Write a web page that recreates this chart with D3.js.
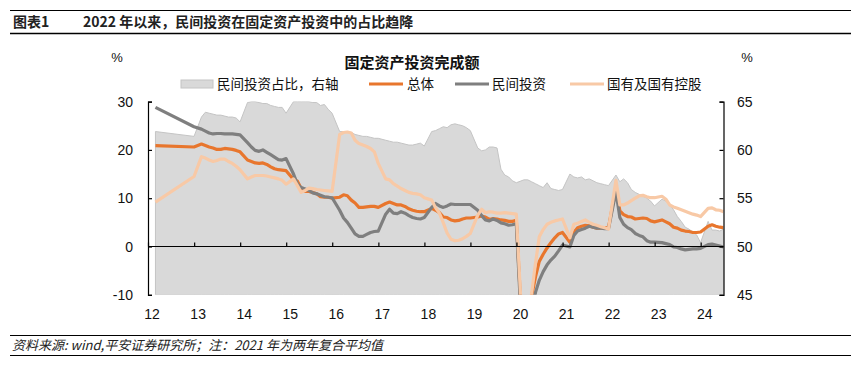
<!DOCTYPE html>
<html>
<head>
<meta charset="utf-8">
<script src="https://cdn.jsdelivr.net/npm/d3@7"></script>
<style>
    body { margin: 0; background: #fff; }
    text { font-family: "Liberation Sans", "Noto Sans CJK SC", sans-serif; }
    .cjk { font-family: "Noto Sans CJK SC", "Liberation Sans", sans-serif; }
</style>
</head>
<body>
<script>
/*global d3 */

// month-end points, Feb..Dec each year (Jan is merged into Feb), last point Jun 2024
var months = [];
for (var yr = 2012; yr <= 2024; yr++) {
    for (var m = 2; m <= (yr === 2024 ? 6 : 12); m++) {
        months.push(new Date(yr, m, 0));
    }
}

var yearTicks = ["12", "13", "14", "15", "16", "17", "18", "19", "20", "21", "22", "23", "24"];
var leftTicks = [-10, 0, 10, 20, 30];
var rightTicks = [45, 50, 55, 60, 65];

// 民间投资占比，右轴 (%), nulls are months the source skips
var privateShare = [
    61.9, null, null, null, null, null, null, null, null, null, 61.4,
    63.4, 63.9, 63.8, 63.7, 63.6, 63.6, 63.5, 63.4, 63.4, 63.3, 62.9,
    64.9, 65.0, 65.0, 64.9, 64.8, 64.8, 64.6, 64.5, 64.4, 64.4, 63.8,
    65.0, 65.0, 65.0, 65.0, 65.0, 64.9, 64.9, 64.6, 64.7, 64.2, 63.8,
    61.9, 61.9, 61.9, 61.8, 61.6, 61.5, 61.4, 61.4, 61.3, 61.2, 61.2,
    61.0, 60.9, 60.8, 60.8, 60.7, 60.6, 60.5, 60.5, 60.6, 60.7, 60.4,
    61.9, 62.0, 62.2, 62.4, 62.3, 62.6, 62.7, 62.6, 62.5, 62.3, 62.0,
    60.2, 59.9, 60.0, 60.3, 60.3, 60.2, 58.0, 57.4, 57.2, 56.8, 56.6,
    56.9, 56.9, 56.7, 56.5, 56.3, 56.1, 56.6, 56.0, 55.9, 55.8, 55.9,
    57.5, 57.2, 57.1, 57.2, 56.9, 57.0, 56.8, 56.6, 56.5, 56.4, 56.3,
    57.4, 56.7, 57.0, 56.6, 55.9, 55.6, 55.4, 55.2, 55.0, 54.7, 54.2,
    54.9, 54.7, 54.3, 53.8, 53.1, 52.6, 52.0, 51.8, 51.5, 51.2, 50.4,
    52.6, 51.7, 51.7, 51.6, 51.8
];

// 总体 (cumulative yoy, %)
var total = [
    20.9, null, null, null, null, null, null, null, null, null, 20.6,
    21.2, 20.9, 20.6, 20.4, 20.1, 20.1, 20.3, 20.2, 20.1, 19.9, 19.6,
    17.9, 17.6, 17.3, 17.2, 17.3, 17.0, 16.5, 16.1, 15.9, 15.8, 15.7,
    13.9, 13.5, 12.0, 11.4, 11.4, 11.2, 10.9, 10.3, 10.2, 10.2, 10.0,
    10.2, 10.7, 10.5, 9.6, 9.0, 8.1, 8.1, 8.2, 8.3, 8.3, 8.1,
    8.9, 9.2, 8.9, 8.6, 8.6, 8.3, 7.8, 7.5, 7.3, 7.2, 7.2,
    7.9, 7.5, 7.0, 6.1, 6.0, 5.5, 5.3, 5.4, 5.7, 5.9, 5.9,
    6.1, 6.3, 6.1, 5.6, 5.8, 5.7, 5.5, 5.4, 5.2, 5.2, 5.4,
    -24.5, -16.1, -10.3, -6.3, -3.1, -1.6, -0.3, 0.8, 1.8, 2.6, 2.9,
    0.9, 2.9, 3.9, 4.2, 4.4, 4.3, 4.0, 3.8, 3.8, 3.9, 3.9,
    12.2, 7.4, 6.6, 6.2, 6.1, 5.7, 5.8, 5.9, 5.8, 5.3, 5.1,
    5.5, 5.1, 4.7, 4.0, 3.8, 3.4, 3.2, 3.1, 2.9, 2.9, 3.0,
    4.2, 4.5, 4.2, 4.0, 3.9
];

// 民间投资
var privateInv = [
    28.8, null, null, null, null, null, null, null, null, null, 24.8,
    24.3, 23.9, 23.5, 23.3, 23.4, 23.4, 23.3, 23.3, 23.3, 23.2, 23.1,
    21.5, 20.6, 19.9, 19.7, 20.0, 19.5, 19.0, 18.5, 18.0, 17.9, 18.2,
    15.0, 12.9, 12.2, 11.9, 11.6, 11.1, 10.9, 10.6, 10.3, 10.2, 10.1,
    7.5, 5.9, 5.0, 3.8, 2.6, 2.1, 2.1, 2.5, 2.9, 3.1, 3.2,
    6.7, 7.7, 6.9, 6.8, 7.2, 6.9, 6.4, 6.0, 5.8, 5.7, 6.0,
    8.1, 8.9, 8.4, 8.1, 8.4, 8.8, 8.7, 8.7, 8.7, 8.7, 8.7,
    7.5, 6.4, 5.5, 5.3, 5.7, 5.4, 4.9, 4.7, 4.4, 4.5, 4.7,
    -26.4, -18.8, -13.3, -9.5, -7.0, -5.2, -3.8, -2.8, -2.0, -0.9, 0.3,
    -0.1, 2.3, 3.2, 3.5, 3.8, 4.2, 4.0, 3.8, 3.8, 3.7, 3.7,
    11.4, 6.0, 4.6, 3.9, 3.5, 2.7, 2.3, 2.0, 1.2, 0.9, 0.9,
    0.8, 0.6, 0.4, -0.1, -0.2, -0.5, -0.7, -0.6, -0.5, -0.5, -0.4,
    0.4, 0.5, 0.3, 0.1, -0.1
];

// 国有及国有控股
var stateInv = [
    9.2, null, null, null, null, null, null, null, null, null, 14.5,
    18.6, 18.3, 17.9, 17.6, 17.8, 18.1, 18.1, 17.6, 17.2, 16.6, 15.9,
    14.0, 14.4, 14.7, 14.7, 14.7, 14.6, 14.4, 14.2, 14.0, 13.7, 12.9,
    14.0, 12.6, 11.2, 11.6, 12.1, 12.0, 11.8, 11.7, 11.6, 11.5, 11.4,
    23.2, 23.6, 23.7, 23.5, 22.0, 21.3, 21.0, 20.7, 20.3, 19.6, 17.2,
    14.0, 13.8, 13.0, 12.5, 12.0, 11.6, 11.2, 11.0, 10.9, 10.7, 10.1,
    9.6, 8.0, 6.9, 4.9, 2.8, 1.5, 1.2, 1.3, 1.6, 2.1, 2.7,
    6.5, 7.7, 7.0, 7.2, 7.1, 6.9, 6.9, 7.0, 6.9, 6.8, 6.7,
    -23.2, -13.5, -9.8, -3.5, 2.0, 3.5, 4.6, 5.0, 5.3, 5.5, 5.7,
    1.8, 4.6, 4.8, 5.2, 5.5, 5.0, 4.6, 4.4, 4.1, 3.9, 3.6,
    13.7, 8.6, 8.6, 9.0, 9.5, 10.0, 10.5, 10.6, 10.3, 10.1, 10.1,
    10.4, 9.8, 8.6, 8.2, 7.9, 7.6, 7.3, 7.0, 6.7, 6.5, 6.2,
    7.9, 8.0, 7.6, 7.5, 7.2
];

var W = 861, H = 369;
var plot = { left: 148, right: 723.5, top: 101.6, bottom: 294.8 };

var svg = d3.select("body").append("svg")
    .attr("width", W).attr("height", H)
    .style("display", "block");

svg.append("rect").attr("width", W).attr("height", H).attr("fill", "#fff");

// header
svg.append("line").attr("x1", 10).attr("x2", 851).attr("y1", 10.5).attr("y2", 10.5)
    .attr("stroke", "#000").attr("stroke-width", 1);
svg.append("line").attr("x1", 10).attr("x2", 851).attr("y1", 33.5).attr("y2", 33.5)
    .attr("stroke", "#000").attr("stroke-width", 1.5);
svg.append("text").attr("class", "cjk").attr("x", 13).attr("y", 27)
    .attr("font-size", 14).attr("font-weight", "bold").attr("fill", "#222")
    .text("图表1");
svg.append("text").attr("class", "cjk").attr("x", 83).attr("y", 27)
    .attr("font-size", 14).attr("font-weight", "bold").attr("fill", "#222")
    .text("2022 年以来，民间投资在固定资产投资中的占比趋降");

// footer
svg.append("line").attr("x1", 10).attr("x2", 851).attr("y1", 335.5).attr("y2", 335.5)
    .attr("stroke", "#000").attr("stroke-width", 1);
svg.append("line").attr("x1", 10).attr("x2", 851).attr("y1", 355.5).attr("y2", 355.5)
    .attr("stroke", "#000").attr("stroke-width", 1);
svg.append("text").attr("class", "cjk").attr("x", 12).attr("y", 350)
    .attr("font-size", 13).attr("font-style", "italic").attr("fill", "#222")
    .text("资料来源: wind,平安证券研究所；注：2021 年为两年复合平均值");

// scales
var x = d3.scaleTime()
    .domain([new Date(2012, 0, 1), new Date(2024, 5, 30)])
    .range([plot.left, plot.right]);
var yL = d3.scaleLinear().domain([-10, 30]).range([plot.bottom, plot.top]);
var yR = d3.scaleLinear().domain([45, 65]).range([plot.bottom, plot.top]);

svg.append("defs").append("clipPath").attr("id", "clip")
    .append("rect")
    .attr("x", plot.left).attr("y", plot.top)
    .attr("width", plot.right - plot.left).attr("height", plot.bottom - plot.top);

var g = svg.append("g").attr("clip-path", "url(#clip)");

// area on right axis, gaps connected like the source chart
var shareRows = months.map(function (d, i) { return { date: d, v: privateShare[i] }; })
    .filter(function (d) { return d.v !== null; });
g.append("path")
    .datum(shareRows)
    .attr("fill", "#d9d9d9")
    .attr("stroke", "#c4c4c4")
    .attr("stroke-width", 1)
    .attr("d", d3.area()
        .x(function (d) { return x(d.date); })
        .y0(yR(45))
        .y1(function (d) { return yR(d.v); }));

// zero line with year ticks
var xAxis = d3.axisTop(x)
    .tickValues(yearTicks.map(function (t) { return new Date(2000 + (+t), 0, 1); }))
    .tickSize(4)
    .tickFormat("");
var xg = svg.append("g").attr("transform", "translate(0," + yL(0) + ")").call(xAxis);
xg.select(".domain").attr("stroke", "#000").attr("stroke-width", 1.2)
    .attr("d", "M" + plot.left + ",0H" + plot.right);
xg.selectAll(".tick line").attr("stroke", "#000").attr("stroke-width", 1.2);

svg.append("g").selectAll("text")
    .data(yearTicks)
    .join("text")
    .attr("x", function (t) { return x(new Date(2000 + (+t), 0, 1)) + 4; })
    .attr("y", 319)
    .attr("text-anchor", "middle")
    .attr("font-size", 14)
    .attr("fill", "#111")
    .text(function (t) { return t; });

// left and right axes
var leftAxis = d3.axisRight(yL).tickValues(leftTicks).tickSize(4).tickFormat("");
var lg = svg.append("g").attr("transform", "translate(" + plot.left + ",0)").call(leftAxis);
var rightAxis = d3.axisLeft(yR).tickValues(rightTicks).tickSize(4).tickFormat("");
var rg = svg.append("g").attr("transform", "translate(" + plot.right + ",0)").call(rightAxis);
[lg, rg].forEach(function (a) {
    a.select(".domain").attr("stroke", "#000").attr("stroke-width", 1.2);
    a.selectAll(".tick line").attr("stroke", "#000").attr("stroke-width", 1.2);
});

svg.append("g").selectAll("text")
    .data(leftTicks)
    .join("text")
    .attr("x", 133).attr("y", function (d) { return yL(d) + 5; })
    .attr("text-anchor", "end").attr("font-size", 14).attr("fill", "#111")
    .text(function (d) { return d; });
svg.append("g").selectAll("text")
    .data(rightTicks)
    .join("text")
    .attr("x", 737).attr("y", function (d) { return yR(d) + 5; })
    .attr("font-size", 14).attr("fill", "#111")
    .text(function (d) { return d; });

svg.append("text").attr("x", 117).attr("y", 62).attr("text-anchor", "middle")
    .attr("font-size", 13).attr("fill", "#111").text("%");
svg.append("text").attr("x", 747).attr("y", 62).attr("text-anchor", "middle")
    .attr("font-size", 13).attr("fill", "#111").text("%");

// lines
var series = [
    { name: "总体", values: total, color: "#e8762d" },
    { name: "民间投资", values: privateInv, color: "#7f7f7f" },
    { name: "国有及国有控股", values: stateInv, color: "#f8c9a6" }
];
var line = d3.line()
    .x(function (d) { return x(d.date); })
    .y(function (d) { return yL(d.v); });

series.forEach(function (s) {
    var rows = months.map(function (d, i) { return { date: d, v: s.values[i] }; })
        .filter(function (d) { return d.v !== null; });
    g.append("path")
        .datum(rows)
        .attr("fill", "none")
        .attr("stroke", s.color)
        .attr("stroke-width", 3.2)
        .attr("stroke-linejoin", "round")
        .attr("d", line);
});

// chart title and legend
svg.append("text").attr("class", "cjk").attr("x", 412).attr("y", 68)
    .attr("text-anchor", "middle").attr("font-size", 15).attr("font-weight", "bold")
    .attr("fill", "#111").text("固定资产投资完成额");

var legend = svg.append("g").attr("transform", "translate(0,84)");
legend.append("rect").attr("x", 181).attr("y", -4).attr("width", 32).attr("height", 8)
    .attr("fill", "#d9d9d9").attr("stroke", "#c4c4c4");
legend.append("text").attr("class", "cjk").attr("x", 217).attr("y", 5)
    .attr("font-size", 13.5).attr("fill", "#111").text("民间投资占比，右轴");

var legendLines = [
    { x: 369, tx: 407, s: series[0] },
    { x: 455, tx: 492, s: series[1] },
    { x: 570, tx: 607, s: series[2] }
];
legendLines.forEach(function (l) {
    legend.append("line").attr("x1", l.x).attr("x2", l.x + 34).attr("y1", 0).attr("y2", 0)
        .attr("stroke", l.s.color).attr("stroke-width", 3.2);
    legend.append("text").attr("class", "cjk").attr("x", l.tx).attr("y", 5)
        .attr("font-size", 13.5).attr("fill", "#111").text(l.s.name);
});
</script>
</body>
</html>
